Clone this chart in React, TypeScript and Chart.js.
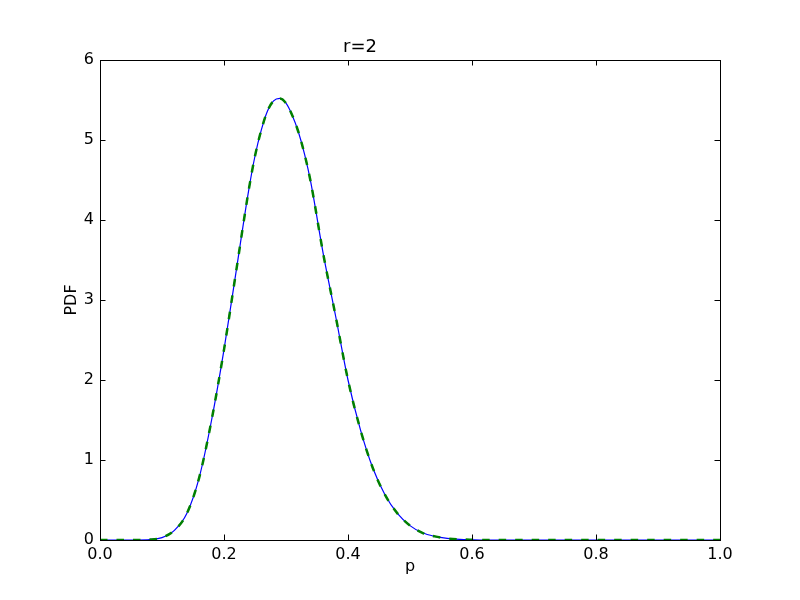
import { Chart, registerables } from 'chart.js';
import { useEffect, useRef } from 'react';

Chart.register(...registerables);

// p grid (step 0.02, finer around the peak)
const pValues = [
  0.0, 0.02, 0.04, 0.06, 0.08, 0.1, 0.12, 0.14, 0.16, 0.18, 0.2, 0.22, 0.24, 0.25, 0.26, 0.27, 0.28,
  0.29, 0.3, 0.31, 0.32, 0.33, 0.34, 0.36, 0.38, 0.4, 0.42, 0.44, 0.46, 0.48, 0.5, 0.52, 0.54, 0.56,
  0.58, 0.6, 0.62, 0.64, 0.66, 0.68, 0.7, 0.72, 0.74, 0.76, 0.78, 0.8, 0.82, 0.84, 0.86, 0.88, 0.9,
  0.92, 0.94, 0.96, 0.98, 1.0,
];

// blue solid curve
const pdfSolid = [
  0, 0, 0, 0, 0.005, 0.03, 0.12, 0.33, 0.78, 1.5, 2.38, 3.38, 4.38, 4.8, 5.12, 5.36, 5.49, 5.52,
  5.46, 5.31, 5.1, 4.82, 4.47, 3.58, 2.8, 2.0, 1.38, 0.9, 0.56, 0.33, 0.18, 0.09, 0.045, 0.02, 0.008,
  0.003, 0, 0, 0, 0, 0, 0, 0, 0, 0, 0, 0, 0, 0, 0, 0, 0, 0, 0, 0, 0,
];

// green dashed curve (lies on top of the blue one)
const pdfDashed = [
  0, 0, 0, 0, 0.005, 0.03, 0.12, 0.33, 0.78, 1.5, 2.38, 3.38, 4.38, 4.8, 5.12, 5.36, 5.49, 5.52,
  5.46, 5.31, 5.1, 4.82, 4.47, 3.58, 2.8, 2.0, 1.38, 0.9, 0.56, 0.33, 0.18, 0.09, 0.045, 0.02, 0.008,
  0.003, 0, 0, 0, 0, 0, 0, 0, 0, 0, 0, 0, 0, 0, 0, 0, 0, 0, 0, 0, 0,
];

const xTicks = [0, 0.2, 0.4, 0.6, 0.8, 1.0];
const yTicks = [0, 1, 2, 3, 4, 5, 6];

const FONT = { family: '"DejaVu Sans", sans-serif', size: 16, weight: 'normal' as const };
const TITLE_FONT = { family: '"DejaVu Sans", sans-serif', size: 18, weight: 'normal' as const };

// matplotlib-style frame with inward ticks on all four sides
const framePlugin = {
  id: 'frame',
  afterDatasetsDraw(chart: Chart) {
    const { ctx, chartArea: a, scales } = chart;
    const len = 5.5;
    ctx.save();
    ctx.strokeStyle = '#000';
    ctx.lineWidth = 1;
    ctx.beginPath();
    for (const v of xTicks) {
      const x = Math.round(scales.x.getPixelForValue(v)) + 0.5;
      ctx.moveTo(x, a.bottom);
      ctx.lineTo(x, a.bottom - len);
      ctx.moveTo(x, a.top);
      ctx.lineTo(x, a.top + len);
    }
    for (const v of yTicks) {
      const y = Math.round(scales.y.getPixelForValue(v)) + 0.5;
      ctx.moveTo(a.left, y);
      ctx.lineTo(a.left + len, y);
      ctx.moveTo(a.right, y);
      ctx.lineTo(a.right - len, y);
    }
    ctx.stroke();
    ctx.strokeRect(
      Math.round(a.left) + 0.5,
      Math.round(a.top) + 0.5,
      Math.round(a.right - a.left),
      Math.round(a.bottom - a.top),
    );
    ctx.restore();
  },
};

export default function App() {
  const canvasRef = useRef<HTMLCanvasElement>(null);
  const chartRef = useRef<Chart | null>(null);

  useEffect(() => {
    document.body.style.margin = '0';
    const ctx = canvasRef.current!.getContext('2d');
    if (chartRef.current) {
      chartRef.current.destroy();
    }
    chartRef.current = new Chart(ctx!, {
      type: 'line',
      data: {
        datasets: [
          {
            label: 'dashed',
            data: pValues.map((p, i) => ({ x: p, y: pdfDashed[i] })),
            borderColor: '#008000',
            borderWidth: 2.5,
            borderDash: [7.5, 9],
            pointRadius: 0,
            cubicInterpolationMode: 'monotone',
            order: 0,
          },
          {
            label: 'solid',
            data: pValues.map((p, i) => ({ x: p, y: pdfSolid[i] })),
            borderColor: '#0000ff',
            borderWidth: 1.2,
            pointRadius: 0,
            cubicInterpolationMode: 'monotone',
            order: 1,
          },
        ],
      },
      options: {
        animation: false,
        responsive: false,
        layout: { padding: { left: 0, right: 80, top: 0, bottom: 0 } },
        plugins: {
          legend: { display: false },
          tooltip: { enabled: false },
          title: {
            display: true,
            text: 'r=2',
            color: '#000',
            font: TITLE_FONT,
            padding: { top: 36.2, bottom: 2.2 },
          },
        },
        scales: {
          x: {
            type: 'linear',
            min: 0,
            max: 1,
            afterFit: (scale) => {
              scale.height = 60;
            },
            afterBuildTicks: (scale) => {
              scale.ticks = xTicks.map((v) => ({ value: v }));
            },
            grid: { display: false, drawTicks: false },
            border: { display: false },
            ticks: {
              color: '#000',
              font: FONT,
              padding: 5,
              autoSkip: false,
              maxRotation: 0,
              callback: (v) => Number(v).toFixed(1),
            },
            title: {
              display: true,
              text: 'p',
              color: '#000',
              font: FONT,
              padding: { top: 0, bottom: 23.4 },
            },
          },
          y: {
            type: 'linear',
            min: 0,
            max: 6,
            afterFit: (scale) => {
              scale.width = 100;
            },
            afterBuildTicks: (scale) => {
              scale.ticks = yTicks.map((v) => ({ value: v }));
            },
            grid: { display: false, drawTicks: false },
            border: { display: false },
            ticks: {
              color: '#000',
              font: FONT,
              padding: 6,
              callback: (v) => String(v),
            },
            title: {
              display: true,
              text: 'PDF',
              color: '#000',
              font: FONT,
              padding: { top: 62.4, bottom: 0 },
            },
          },
        },
      },
      plugins: [framePlugin],
    });
    return () => {
      if (chartRef.current) {
        chartRef.current.destroy();
        chartRef.current = null;
      }
    };
  }, []);

  return (
    <div style={{ width: 800, height: 600, background: '#fff' }}>
      <canvas ref={canvasRef} width="800" height="600"></canvas>
    </div>
  );
}
